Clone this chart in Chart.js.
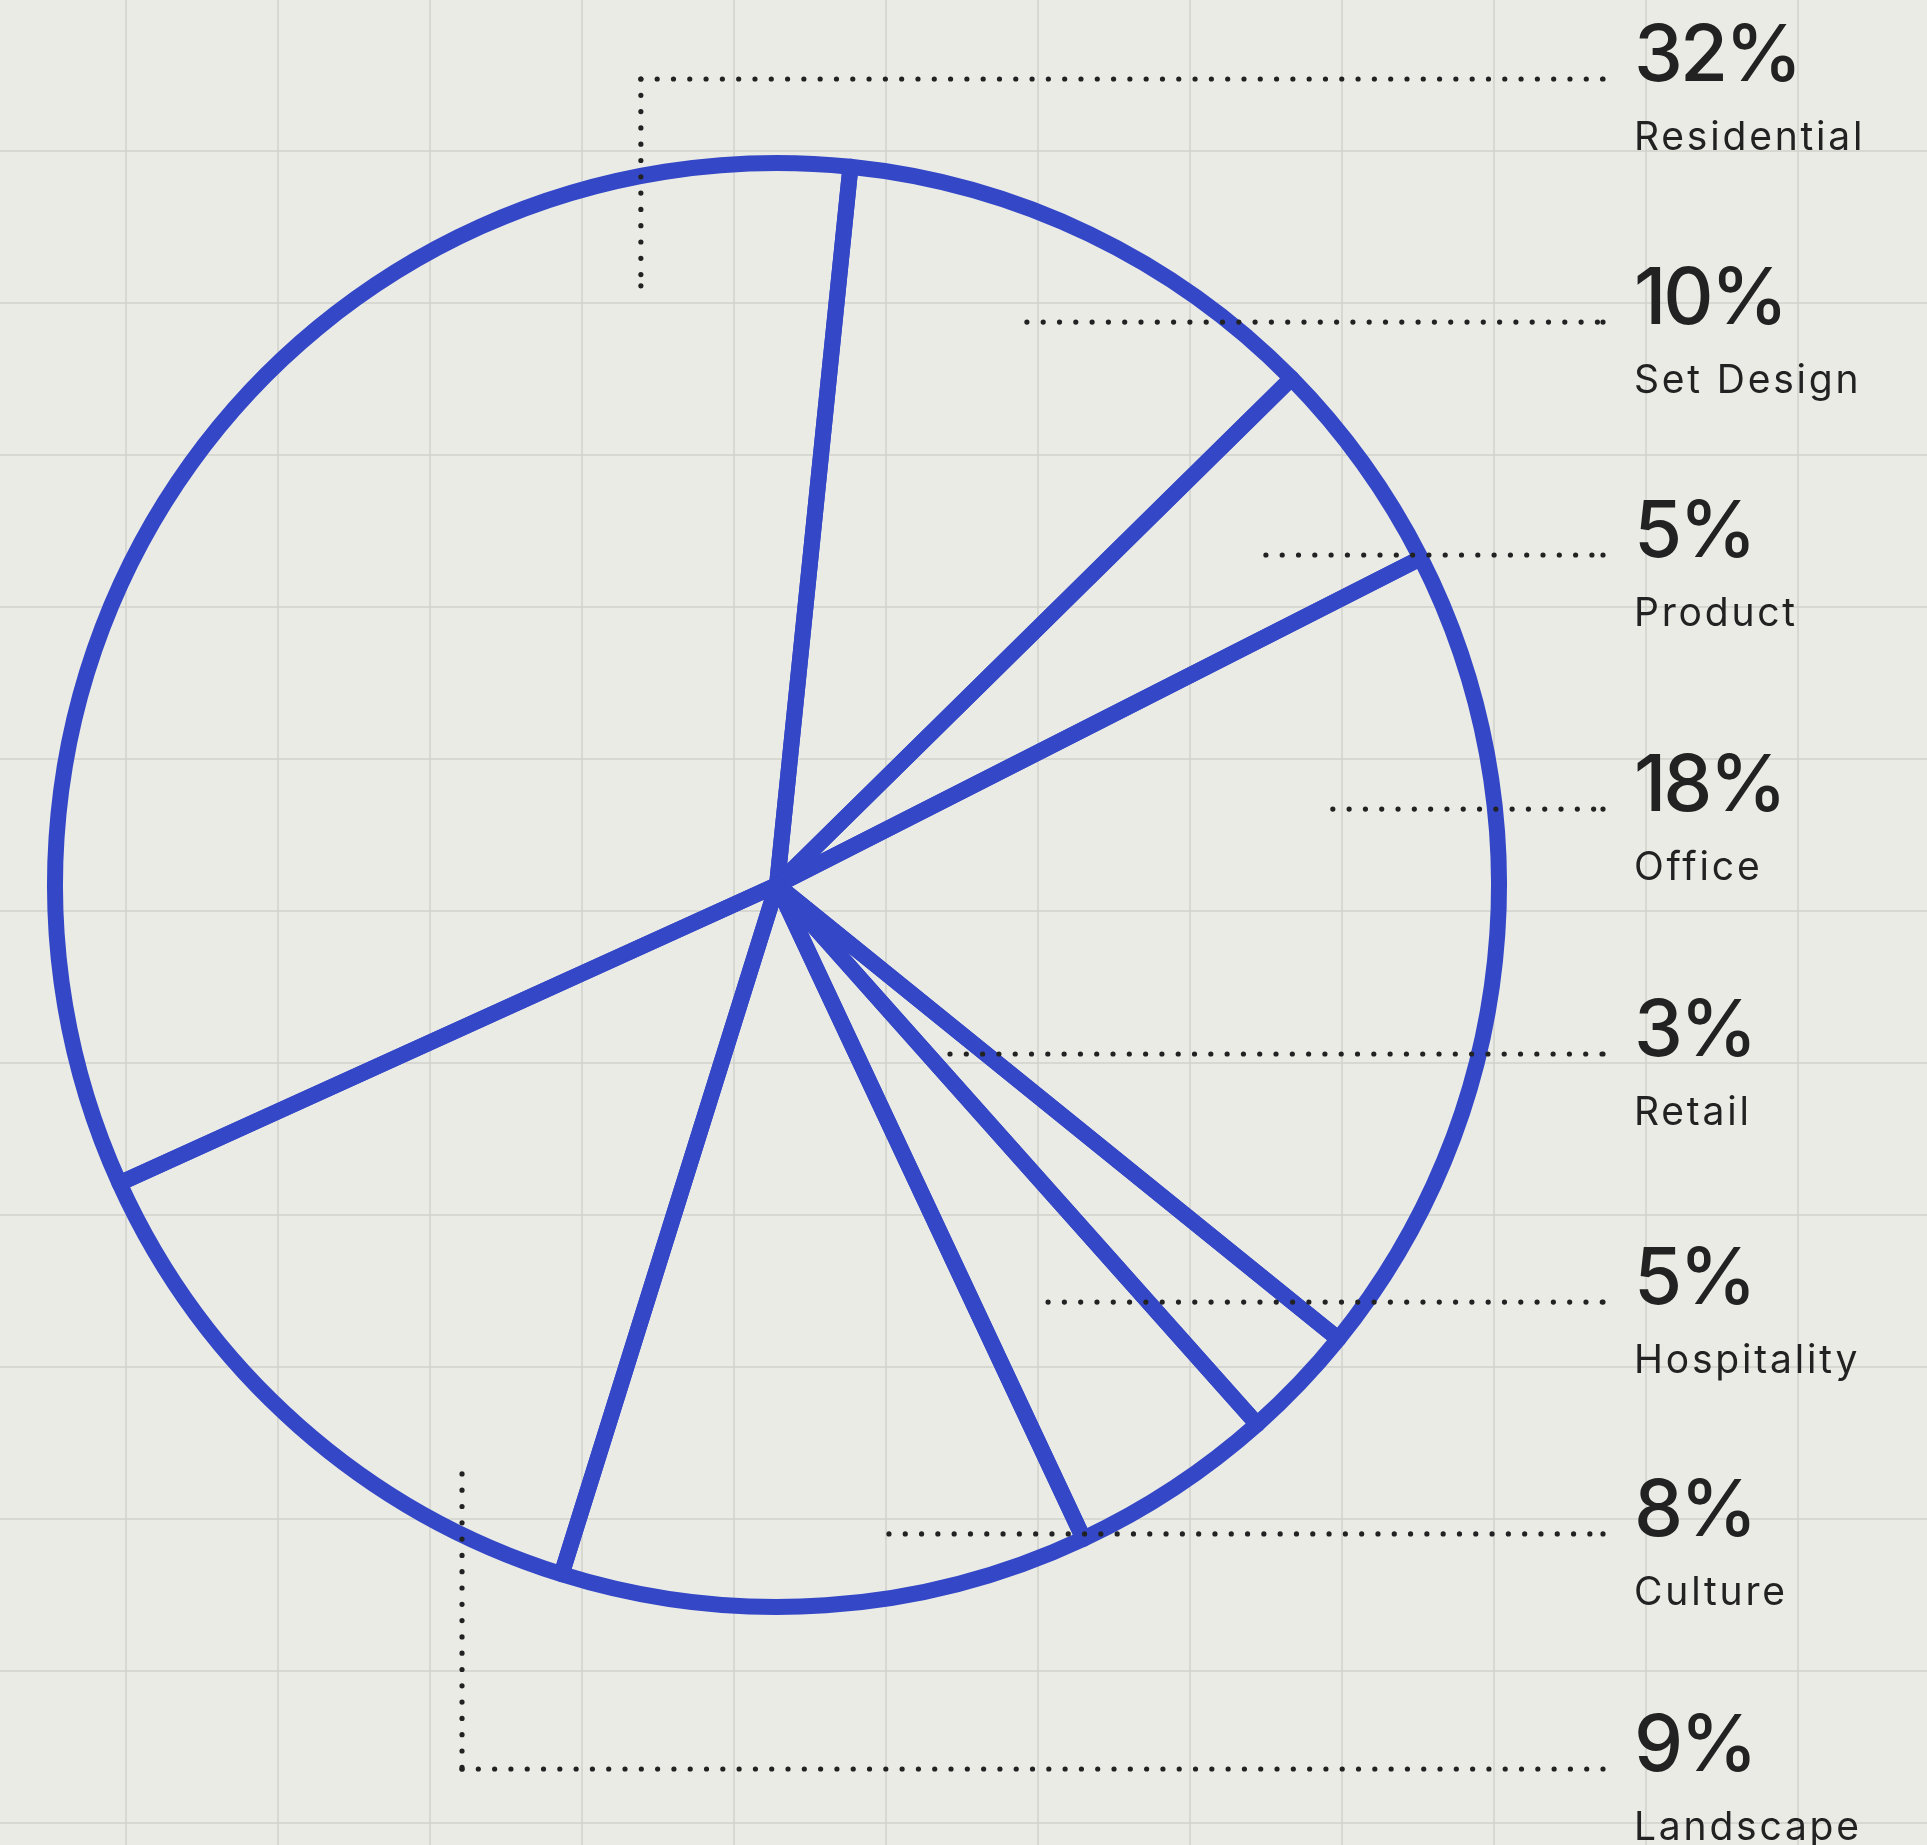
<!DOCTYPE html>
<html>
<head>
<meta charset="utf-8">
<style>
  html, body { margin: 0; padding: 0; background: #ebebe6; }
  #wrap { width: 1927px; height: 1845px; }
</style>
<script src="https://cdn.jsdelivr.net/npm/chart.js@4.4.0/dist/chart.umd.min.js"></script>
</head>
<body>
<div id="wrap"><canvas id="pie" width="1927" height="1845"></canvas></div>
<script>
// --- data ---
const categories = ['Residential', 'Set Design', 'Product', 'Office', 'Retail', 'Hospitality', 'Culture', 'Landscape'];
const percentLabels = ['32%', '10%', '5%', '18%', '3%', '5%', '8%', '9%'];
// slice sizes as drawn (share of the full circle)
const sliceShares = [33.4, 11.0, 4.9, 18.3, 2.6, 4.6, 11.8, 13.4];

// --- layout ---
const BG = '#ebebe6';
const BLUE = '#3347c7';
const INK = '#222222';
const GRID = '#d2d2cd';
const labelX = 1634;
const leaderEndX = 1603;
const DOT_GAP = 16.3;
// where each leader starts inside its slice: angle from 12 o'clock (deg), radius as fraction of the pie
const leaderAnchors = [
  { angle: 347.2, r: 0.851, rowY: 79 },
  { angle: 23.94, r: 0.853 },
  { angle: 55.98, r: 0.817 },
  { angle: 82.22, r: 0.777 },
  { angle: 134.33, r: 0.335 },
  { angle: 146.98, r: 0.689 },
  { angle: 170.21, r: 0.912 },
  { angle: 208.14, r: 0.925, rowY: 1769 }
];

// Background grid
const gridPlugin = {
  id: 'grid',
  beforeDraw(chart) {
    const ctx = chart.ctx;
    const w = chart.width, h = chart.height;
    ctx.save();
    ctx.fillStyle = BG;
    ctx.fillRect(0, 0, w, h);
    ctx.strokeStyle = GRID;
    ctx.lineWidth = 1.5;
    ctx.beginPath();
    for (let x = 126; x < w; x += 152) {
      ctx.moveTo(x, 0); ctx.lineTo(x, h);
    }
    for (let y = -1; y < h; y += 152) {
      ctx.moveTo(0, y); ctx.lineTo(w, y);
    }
    ctx.stroke();
    ctx.restore();
  }
};

// dots from (x1,y1) at a fixed gap, plus one dot right on (x2,y2)
function dotted(ctx, x1, y1, x2, y2) {
  const len = Math.hypot(x2 - x1, y2 - y1);
  const ux = (x2 - x1) / len, uy = (y2 - y1) / len;
  ctx.beginPath();
  for (let d = 0; d < len; d += DOT_GAP) {
    ctx.moveTo(x1 + ux * d + 2.6, y1 + uy * d);
    ctx.arc(x1 + ux * d, y1 + uy * d, 2.6, 0, Math.PI * 2);
  }
  ctx.moveTo(x2 + 2.6, y2);
  ctx.arc(x2, y2, 2.6, 0, Math.PI * 2);
  ctx.fill();
}

// Dotted leaders and the percentage / name labels
const labelPlugin = {
  id: 'leaders',
  afterDraw(chart) {
    const ctx = chart.ctx;
    const arc = chart.getDatasetMeta(0).data[0];
    const cx = arc.x, cy = arc.y, R = arc.outerRadius;
    ctx.save();
    leaderAnchors.forEach((a, i) => {
      const t = a.angle * Math.PI / 180;
      const ax = cx + Math.sin(t) * R * a.r;
      const ay = cy - Math.cos(t) * R * a.r;
      const rowY = a.rowY !== undefined ? a.rowY : ay;

      ctx.fillStyle = INK;
      if (a.rowY !== undefined) {
        // elbow: vertical part drawn top to bottom
        if (ay > rowY) dotted(ctx, ax, rowY, ax, ay);
        else dotted(ctx, ax, ay, ax, rowY);
      }
      dotted(ctx, ax, rowY, leaderEndX, rowY);

      ctx.textAlign = 'left';
      ctx.textBaseline = 'alphabetic';
      ctx.font = '500 78px Inter';
      ctx.letterSpacing = '-3px';
      ctx.fillText(percentLabels[i], labelX, rowY + 2);
      ctx.font = '400 39px Inter';
      ctx.letterSpacing = '2.8px';
      ctx.fillText(categories[i], labelX, rowY + 71);
      ctx.letterSpacing = '0px';
    });
    ctx.restore();
  }
};

new Chart(document.getElementById('pie'), {
  type: 'pie',
  data: {
    labels: categories,
    datasets: [{
      data: sliceShares,
      backgroundColor: 'rgba(0,0,0,0)',
      borderColor: BLUE,
      borderWidth: 16,
      hoverBorderWidth: 16,
      borderJoinStyle: 'round',
      borderAlign: 'center'
    }]
  },
  options: {
    responsive: false,
    animation: false,
    events: [],
    rotation: 245.6,
    radius: 722,
    layout: { padding: { left: 40, right: 413, top: 140, bottom: 215 } },
    plugins: {
      legend: { display: false },
      tooltip: { enabled: false }
    }
  },
  plugins: [gridPlugin, labelPlugin]
});
</script>
</body>
</html>
